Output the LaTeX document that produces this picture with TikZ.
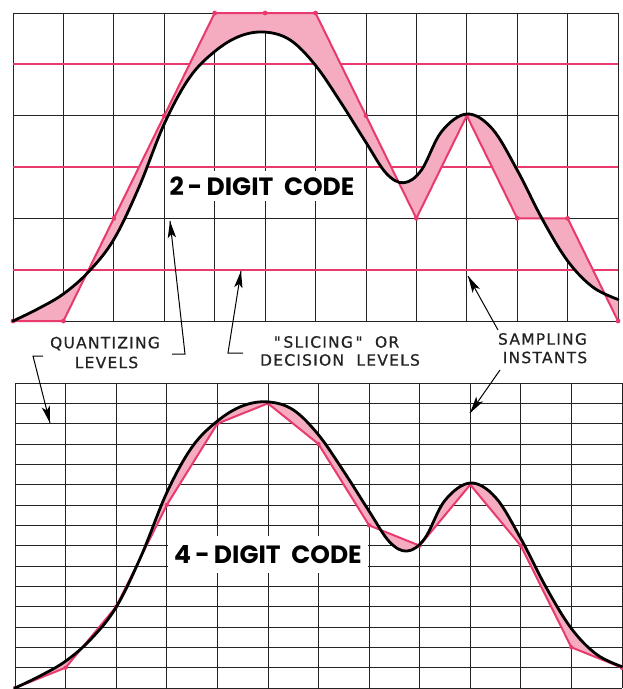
\documentclass[tikz,border=0pt]{standalone}
\usepackage{fontspec}
\setmainfont{DejaVu Sans}
\newfontfamily\labfont{DejaVu Sans}[LetterSpace=8,FakeBold=0.6]
\newfontfamily\titfont{Poppins}
\usetikzlibrary{calc}
\definecolor{pinkq}{RGB}{232,58,108}
\definecolor{inkc}{RGB}{35,35,35}
\tikzset{
  gridline/.style={draw=inkc,line width=0.8pt},
  declevel/.style={draw=pinkq,line width=1.8pt},
  sigline/.style={draw=black,line width=2.8pt,line cap=round,line join=round},
  quantline/.style={draw=pinkq,line width=2pt,line join=round},
  errfill/.style={fill=pinkq!42},
  sampdot/.style={fill=pinkq},
  lab/.style={font=\labfont\fontsize{15.5}{15.5}\selectfont,text=inkc,inner sep=0pt,anchor=center},
  title/.style={font=\titfont\bfseries\fontsize{25}{25}\selectfont,text=black,inner sep=0pt,anchor=center},
  pointer/.style={draw=black,line width=1pt},
  headfill/.style={fill=black}
}
% arrowhead at tip #1 pointing away from #2
\newcommand\headat[2]{\fill[headfill] (#1) -- ($(#1)!17pt!(#2)!4.2pt!90:(#1)$) -- ($(#1)!13pt!(#2)$) -- ($(#1)!17pt!(#2)!4.2pt!-90:(#1)$) -- cycle;}
\newcommand\sigcurve{plot[smooth,tension=0.6] coordinates {(0,0) (0.5,0.04) (1,0.088) (1.5,0.16) (2,0.265) (2.5,0.435) (3,0.64) (3.5,0.79) (4,0.875) (4.5,0.925) (5,0.938) (5.5,0.912) (6,0.83) (6.5,0.71) (7,0.58) (7.4,0.48) (7.75,0.449) (8.1,0.49) (8.5,0.615) (9,0.672) (9.5,0.625) (10,0.49) (10.5,0.33) (11,0.195) (11.5,0.11) (12,0.07)}}
\begin{document}
\begin{tikzpicture}[x=1pt,y=-1pt]
\useasboundingbox (0,0) rectangle (622,689);
\fill[white] (0,0) rectangle (622,689);
% ---------- top panel : 2-digit code ----------
\begin{scope}[shift={(13,321)},x=50.42pt,y=308pt]
  \foreach \i in {0,...,12} \draw[gridline] (\i,0) -- (\i,1);
  \foreach \j in {0,1,2,3} \draw[gridline] (0,\j/3) -- (12,\j/3);
\end{scope}
\fill[white] (165,171) rectangle (361,201);
\begin{scope}[shift={(13,321)},x=50.42pt,y=308pt]
  \foreach \j in {1,3,5} \draw[declevel] (0,\j/6) -- (12,\j/6);
  \fill[errfill] \sigcurve -- (12,0) -- (11,1/3) -- (10,1/3) -- (9,2/3) -- (8,1/3) -- (7,2/3) -- (6,1) -- (5,1) -- (4,1) -- (3,2/3) -- (2,1/3) -- (1,0) -- (0,0) -- cycle;
  \draw[quantline] (0,0) -- (1,0) -- (2,1/3) -- (3,2/3) -- (4,1) -- (5,1) -- (6,1) -- (7,2/3) -- (8,1/3) -- (9,2/3) -- (10,1/3) -- (11,1/3) -- (12,0);
  \foreach \c/\l in {0/0,1/0,2/1,3/2,4/3,5/3,6/3,7/2,8/1,9/2,10/1,11/1,12/0}
    \fill[sampdot] (\c,\l/3) circle[radius=2.4pt];
  \draw[sigline] \sigcurve;
\end{scope}
\node[title] (t2) at (262,186) {2\,-\,DIGIT\ \ CODE};
% ---------- bottom panel : 4-digit code ----------
\begin{scope}[shift={(15,688)},x=50.58pt,y=305pt]
  \foreach \i in {0,...,12} \draw[gridline] (\i,0) -- (\i,1);
  \foreach \j in {0,...,15} \draw[gridline] (0,\j/15) -- (12,\j/15);
\end{scope}
\fill[white] (168,536) rectangle (368,573);
\begin{scope}[shift={(15,688)},x=50.58pt,y=305pt]
  \fill[errfill] \sigcurve -- (12,1/15) -- (11,2/15) -- (10,7/15) -- (9,10/15) -- (8,7/15) -- (7,8/15) -- (6,12/15) -- (5,14/15) -- (4,13/15) -- (3,9/15) -- (2,4/15) -- (1,1/15) -- (0,0) -- cycle;
  \draw[quantline] (0,0) -- (1,1/15) -- (2,4/15) -- (3,9/15) -- (4,13/15) -- (5,14/15) -- (6,12/15) -- (7,8/15) -- (8,7/15) -- (9,10/15) -- (10,7/15) -- (11,2/15) -- (12,1/15);
  \foreach \c/\l in {0/0,1/1,2/4,3/9,4/13,5/14,6/12,7/8,8/7,9/10,10/7,11/2,12/1}
    \fill[sampdot] (\c,\l/15) circle[radius=2.2pt];
  \draw[sigline] \sigcurve;
\end{scope}
\node[title] (t4) at (268,555) {4\,-\,DIGIT\ \ CODE};
% ---------- labels ----------
\node[lab] (q1) at (105,343.5) {QUANTIZING};
\node[lab] (q2) at (106.5,362.5) {LEVELS};
\node[lab] (s1) at (336.5,342) {"\,SLICING\,"\ \ OR};
\node[lab] (s2) at (340,360) {DECISION\ \ LEVELS};
\node[lab] (p1) at (542.5,339) {SAMPLING};
\node[lab] (p2) at (545,357.5) {INSTANTS};
\coordinate (qtipA) at (170,221);
\coordinate (qcornA) at (185,354);
\coordinate (qtipB) at (50,423);
\coordinate (qcornB) at (33,356);
\coordinate (stip) at (241,271);
\coordinate (scorn) at (228,353);
\coordinate (ptipA) at (468,276);
\coordinate (pfromA) at (498,330);
\coordinate (ptipB) at (470,413);
\coordinate (pfromB) at (500,370);
\draw[pointer] (172,354) -- (qcornA) -- (qtipA);
\draw[pointer] (43,356) -- (qcornB) -- (qtipB);
\draw[pointer] (243,353) -- (scorn) -- (stip);
\draw[pointer] (pfromA) -- (ptipA);
\draw[pointer] (pfromB) -- (ptipB);
\headat{qtipA}{qcornA}
\headat{qtipB}{qcornB}
\headat{stip}{scorn}
\headat{ptipA}{pfromA}
\headat{ptipB}{pfromB}
\end{tikzpicture}
\end{document}
